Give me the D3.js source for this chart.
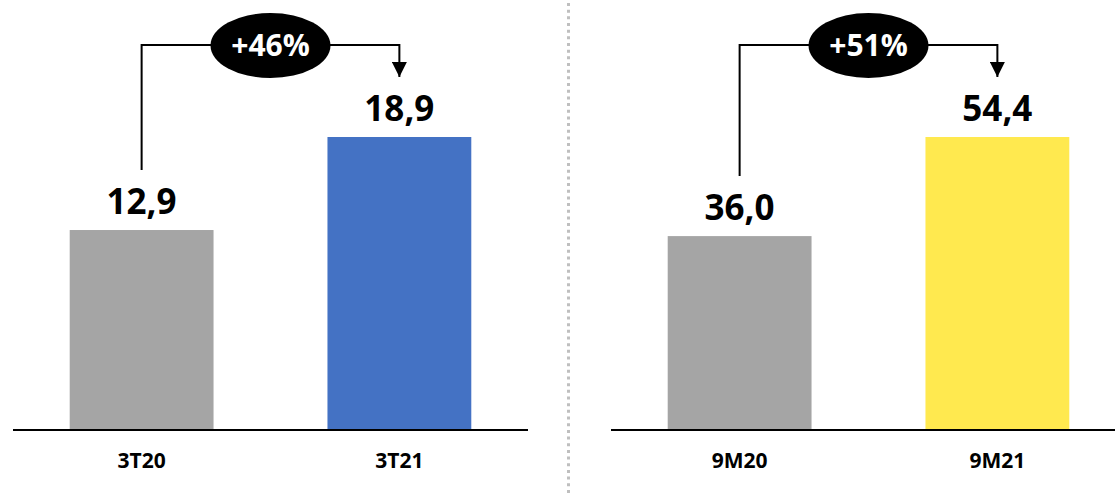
<!DOCTYPE html>
<html>
<head>
<meta charset="utf-8">
<script src="https://cdn.jsdelivr.net/npm/d3@7"></script>
<style>
  html, body { margin: 0; padding: 0; background: #fff; }
  svg { display: block; font-family: "Open Sans", Lato, "DejaVu Sans", sans-serif; }
</style>
</head>
<body>
<svg id="chart" width="1115" height="495"></svg>
<script>
// Quarter comparison (left panel)
const quarterCategories = ["3T20", "3T21"];
const quarterValues = [12.9, 18.9];
const quarterColors = ["#A5A5A5", "#4472C4"];
const quarterGrowth = "+46%";

// Year-to-date comparison (right panel)
const ytdCategories = ["9M20", "9M21"];
const ytdValues = [36.0, 54.4];
const ytdColors = ["#A5A5A5", "#FFE94F"];
const ytdGrowth = "+51%";

const svg = d3.select("#chart");
const baseY = 430, topY = 137;
const fmt = v => v.toFixed(1).replace(".", ",");

// arrow marker for the growth connector
svg.append("defs").append("marker")
  .attr("id", "arrow")
  .attr("viewBox", "0 0 10 10")
  .attr("refX", 10).attr("refY", 5)
  .attr("markerWidth", 15).attr("markerHeight", 15)
  .attr("markerUnits", "userSpaceOnUse")
  .attr("orient", "auto")
  .append("path").attr("d", "M0,0 L10,5 L0,10 Z").attr("fill", "#000");

function drawPanel(x0, x1, categories, values, colors, growth) {
  const g = svg.append("g");
  const x = d3.scaleBand().domain(categories).range([x0, x1])
    .paddingInner(0.442).paddingOuter(0.22);
  const y = d3.scaleLinear().domain([0, d3.max(values)]).range([baseY, topY]);
  const data = categories.map((c, i) => ({ c, v: values[i], col: colors[i] }));

  g.selectAll("rect.bar").data(data).join("rect")
    .attr("class", "bar")
    .attr("x", d => x(d.c))
    .attr("y", d => y(d.v))
    .attr("width", x.bandwidth())
    .attr("height", d => y(0) - y(d.v))
    .attr("fill", d => d.col);

  // category axis
  const axis = g.append("g").attr("transform", `translate(0,${baseY})`)
    .call(d3.axisBottom(x).tickSize(0).tickPadding(0));
  axis.select(".domain").attr("stroke", "#000").attr("stroke-width", 2)
    .attr("d", `M${x0},0H${x1}`);
  axis.selectAll(".tick text")
    .attr("y", 38).attr("dy", 0)
    .attr("font-family", "'Open Sans', Lato, sans-serif")
    .attr("font-size", 21).attr("font-weight", 700).attr("fill", "#000");

  // value labels
  g.selectAll("text.val").data(data).join("text")
    .attr("class", "val")
    .attr("x", d => x(d.c) + x.bandwidth() / 2)
    .attr("y", d => y(d.v) - 16)
    .attr("text-anchor", "middle")
    .attr("font-size", 35).attr("font-weight", 700).attr("fill", "#000")
    .text(d => fmt(d.v));

  // growth connector
  const cx0 = x(categories[0]) + x.bandwidth() / 2;
  const cx1 = x(categories[1]) + x.bandwidth() / 2;
  const lineY = 45;
  const startY = y(values[0]) - 16 - 44;
  g.append("path")
    .attr("d", `M${cx0},${startY}V${lineY}H${cx1}V77`)
    .attr("fill", "none").attr("stroke", "#000").attr("stroke-width", 2)
    .attr("marker-end", "url(#arrow)");

  const mid = (cx0 + cx1) / 2;
  g.append("ellipse").attr("cx", mid).attr("cy", 45.5).attr("rx", 60).attr("ry", 32.5)
    .attr("fill", "#000");
  g.append("text").attr("x", mid).attr("y", 56)
    .attr("text-anchor", "middle")
    .attr("font-size", 30).attr("font-weight", 700).attr("fill", "#fff")
    .text(growth);
}

drawPanel(13, 528, quarterCategories, quarterValues, quarterColors, quarterGrowth);
drawPanel(611, 1126, ytdCategories, ytdValues, ytdColors, ytdGrowth);

// dotted separator between the panels
svg.append("line")
  .attr("x1", 568.5).attr("x2", 568.5).attr("y1", 3).attr("y2", 495)
  .attr("stroke", "#BFBFBF").attr("stroke-width", 3)
  .attr("stroke-dasharray", "3,3.67");
</script>
</body>
</html>
